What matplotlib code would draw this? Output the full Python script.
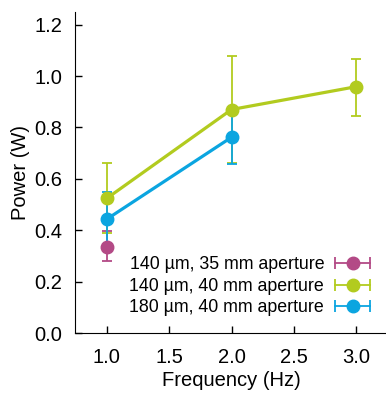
import matplotlib.pyplot as plt
from matplotlib.lines import Line2D
from matplotlib.legend_handler import HandlerLine2D, HandlerTuple

plt.rcParams['font.family'] = ['Liberation Sans', 'DejaVu Sans']

# data
freq_a = [1.0]
pow_a = [0.333]
lo_a = [0.28]
hi_a = [0.397]

freq_b = [1.0, 2.0, 3.0]
pow_b = [0.524, 0.870, 0.959]
lo_b = [0.388, 0.662, 0.845]
hi_b = [0.662, 1.077, 1.068]

freq_c = [1.0, 2.0]
pow_c = [0.443, 0.762]
lo_c = [0.342, 0.656]
hi_c = [0.547, 0.866]

labels = ['140 µm, 35 mm aperture', '140 µm, 40 mm aperture',
          '180 µm, 40 mm aperture']
colors = ['#b34a86', '#b2cb1f', '#0ba5e0']

fig = plt.figure(figsize=(3.86, 3.96), dpi=100)
ax = fig.add_axes([0.194, 0.159, 0.81, 0.811])

series = [(freq_a, pow_a, lo_a, hi_a), (freq_b, pow_b, lo_b, hi_b),
          (freq_c, pow_c, lo_c, hi_c)]
handles = []
hmap = {}
for (x, y, lo, hi), lab, c in zip(series, labels, colors):
    err = [[v - l for v, l in zip(y, lo)], [h - v for v, h in zip(y, hi)]]
    ax.errorbar(x, y, yerr=err, color=c, marker='o', markersize=9,
                linewidth=2.3, elinewidth=1.3, capsize=3.5, capthick=1.3)
    # legend handle: horizontal bar with end caps and a dot in the middle
    caps = Line2D([], [], color=c, linewidth=1.3, marker='|',
                  markersize=8, markeredgewidth=1.3)
    dot = Line2D([], [], color=c, linestyle='none', marker='o', markersize=9)
    hmap[caps] = HandlerLine2D(numpoints=2)
    hmap[dot] = HandlerLine2D(numpoints=1)
    handles.append((caps, dot))
hmap[tuple] = HandlerTuple(ndivide=1, pad=0)

ax.set_xlim(0.745, 3.25)
ax.set_ylim(0, 1.25)
ax.set_xticks([1.0, 1.5, 2.0, 2.5, 3.0])
ax.set_yticks([0.0, 0.2, 0.4, 0.6, 0.8, 1.0, 1.2])
ax.set_xticklabels(['1.0', '1.5', '2.0', '2.5', '3.0'])
ax.set_yticklabels(['0.0', '0.2', '0.4', '0.6', '0.8', '1.0', '1.2'])
ax.tick_params(direction='in', length=5, width=1, labelsize=14.5)
ax.tick_params(axis='x', pad=11)
ax.tick_params(axis='y', pad=9)
ax.spines['top'].set_visible(False)
ax.spines['right'].set_visible(False)
ax.set_xlabel('Frequency (Hz)', fontsize=14.5, labelpad=3)
ax.set_ylabel('Power (W)', fontsize=14.5, labelpad=3)

ax.legend(handles, labels, handler_map=hmap, loc='lower right',
          markerfirst=False, frameon=False, fontsize=12.8,
          handlelength=2.6, handletextpad=0.3, labelspacing=0.25,
          borderaxespad=0.0, bbox_to_anchor=(0.985, 0.03))

fig.savefig('out.png', dpi=100)
